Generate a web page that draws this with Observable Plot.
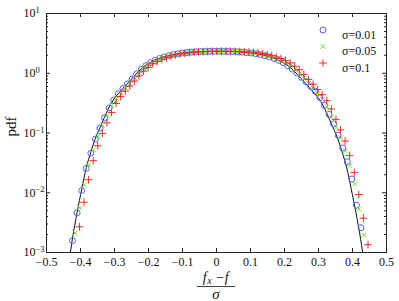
<!DOCTYPE html>
<html><head><meta charset="utf-8">
<script src="https://cdn.jsdelivr.net/npm/d3@7"></script>
<script src="https://cdn.jsdelivr.net/npm/@observablehq/plot@0.6"></script>
<style>body{margin:0;background:#fff}svg{display:block}</style>
</head><body><div id="chart"></div>
<script>
// σ=0.01 (circles)
const circleX = [-0.4235,-0.4100,-0.3966,-0.3831,-0.3696,-0.3562,-0.3427,-0.3292,-0.3157,-0.3023,-0.2888,-0.2753,-0.2619,-0.2484,-0.2349,-0.2215,-0.2080,-0.1945,-0.1810,-0.1676,-0.1541,-0.1406,-0.1272,-0.1137,-0.1002,-0.0868,-0.0733,-0.0598,-0.0463,-0.0329,-0.0194,-0.0059,0.0075,0.0210,0.0345,0.0479,0.0614,0.0749,0.0884,0.1018,0.1153,0.1288,0.1422,0.1557,0.1692,0.1826,0.1961,0.2096,0.2231,0.2365,0.2500,0.2635,0.2769,0.2904,0.3039,0.3174,0.3308,0.3443,0.3578,0.3712,0.3847,0.3982,0.4116,0.4251];
const circleY = [0.00158,0.0046,0.0109,0.0256,0.046,0.079,0.121,0.179,0.263,0.355,0.455,0.553,0.665,0.80,0.975,1.164,1.334,1.503,1.641,1.768,1.875,1.968,2.056,2.121,2.178,2.220,2.259,2.282,2.303,2.317,2.328,2.333,2.333,2.328,2.318,2.303,2.284,2.259,2.222,2.180,2.122,2.058,1.970,1.878,1.770,1.645,1.505,1.335,1.175,1.01,0.85,0.72,0.60,0.50,0.39,0.29,0.205,0.142,0.092,0.056,0.033,0.017,0.0062,0.0026];
// σ=0.05 (times)
const crossX = [-0.4157,-0.4022,-0.3888,-0.3753,-0.3618,-0.3483,-0.3349,-0.3214,-0.3079,-0.2945,-0.2810,-0.2675,-0.2541,-0.2406,-0.2271,-0.2137,-0.2002,-0.1867,-0.1732,-0.1598,-0.1463,-0.1328,-0.1194,-0.1059,-0.0924,-0.0790,-0.0655,-0.0520,-0.0385,-0.0251,-0.0116,0.0019,0.0154,0.0288,0.0423,0.0558,0.0692,0.0827,0.0962,0.1096,0.1231,0.1366,0.1501,0.1635,0.1770,0.1905,0.2039,0.2174,0.2309,0.2443,0.2578,0.2713,0.2847,0.2982,0.3117,0.3252,0.3386,0.3521,0.3656,0.3790,0.3925,0.4060,0.4194,0.4329];
const crossY = [0.00213,0.0056,0.0134,0.0294,0.0526,0.0879,0.132,0.197,0.285,0.378,0.471,0.573,0.698,0.843,1.019,1.197,1.371,1.531,1.671,1.790,1.897,1.986,2.075,2.133,2.190,2.228,2.264,2.286,2.307,2.321,2.329,2.333,2.333,2.328,2.317,2.303,2.282,2.259,2.220,2.178,2.121,2.056,1.968,1.875,1.768,1.641,1.503,1.334,1.164,0.982,0.815,0.68,0.56,0.46,0.365,0.27,0.185,0.125,0.083,0.050,0.0286,0.0141,0.0053,0.00195];
// σ=0.1 (plus)
const plusX = [-0.4030,-0.3895,-0.3761,-0.3626,-0.3491,-0.3357,-0.3222,-0.3087,-0.2952,-0.2818,-0.2683,-0.2548,-0.2414,-0.2279,-0.2144,-0.2010,-0.1875,-0.1740,-0.1605,-0.1471,-0.1336,-0.1201,-0.1067,-0.0932,-0.0797,-0.0663,-0.0528,-0.0393,-0.0258,-0.0124,0.0011,0.0146,0.0280,0.0415,0.0550,0.0684,0.0819,0.0954,0.1089,0.1223,0.1358,0.1493,0.1627,0.1762,0.1897,0.2031,0.2166,0.2301,0.2436,0.2570,0.2705,0.2840,0.2974,0.3109,0.3244,0.3378,0.3513,0.3648,0.3783,0.3917,0.4052,0.4187,0.4321,0.4456];
const plusY = [0.00269,0.00694,0.0165,0.0344,0.0610,0.0984,0.148,0.221,0.313,0.406,0.501,0.611,0.741,0.900,1.084,1.256,1.439,1.581,1.726,1.828,1.934,2.018,2.099,2.158,2.206,2.244,2.274,2.296,2.312,2.328,2.329,2.333,2.333,2.328,2.317,2.303,2.282,2.259,2.220,2.176,2.118,2.050,1.963,1.866,1.760,1.629,1.491,1.315,1.147,0.961,0.789,0.654,0.535,0.437,0.347,0.252,0.169,0.1127,0.0732,0.0419,0.0218,0.00933,0.00375,0.00135];
// reference pdf curve
const curveX = [-0.4298,-0.424,-0.410,-0.396,-0.383,-0.370,-0.357,-0.343,-0.330,-0.317,-0.304,-0.290,-0.2765,-0.2638,-0.250,-0.238,-0.225,-0.200,-0.175,-0.150,-0.125,-0.100,-0.075,-0.050,-0.025,0,0.025,0.050,0.075,0.100,0.125,0.150,0.175,0.200,0.225,0.238,0.250,0.2638,0.2765,0.290,0.304,0.317,0.330,0.343,0.357,0.370,0.383,0.396,0.410,0.424,0.4298];
const curveY = [0.001,0.00166,0.00468,0.01175,0.0263,0.0468,0.0794,0.122,0.180,0.263,0.355,0.449,0.547,0.661,0.80,0.955,1.135,1.462,1.722,1.919,2.080,2.188,2.259,2.301,2.328,2.333,2.328,2.301,2.259,2.188,2.080,1.919,1.722,1.462,1.135,0.955,0.80,0.661,0.547,0.449,0.355,0.263,0.180,0.122,0.0794,0.0468,0.0263,0.01175,0.00468,0.00166,0.001];

const xTicks = [-0.5,-0.4,-0.3,-0.2,-0.1,0,0.1,0.2,0.3,0.4,0.5];
const xTickLabels = ["\u22120.5","\u22120.4","\u22120.3","\u22120.2","\u22120.1","0","0.1","0.2","0.3","0.4","0.5"];
const yTicks = [0.001,0.01,0.1,1,10];
const yTickBase = "10";
const yTickExp = ["\u22123","\u22122","\u22121","0","1"];
const yMinorMult = [2,3,4,5,6,7,8,9];
const seriesLabels = ["\u03c3=0.01","\u03c3=0.05","\u03c3=0.1"];
const seriesSymbols = ["circle","times","plus"];
const seriesColors = ["#4f62f2","#78dc28","#f52626"];
const yLabel = "pdf";

const W = 399, H = 301, mL = 46, mR = 13, mT = 13, mB = 49;
const iW = W - mL - mR, iH = H - mT - mB;
const FONT = "'Liberation Serif', 'DejaVu Serif', serif";

const zip = (xs, ys) => xs.map((x, i) => ({x, y: ys[i]}));
const circles = zip(circleX, circleY);
const crosses = zip(crossX, crossY);
const pluses = zip(plusX, plusY);
const curve = zip(curveX, curveY);
const yMinor = yTicks.slice(0, -1).flatMap(d => yMinorMult.map(m => m * d));
const yLabData = yTicks.map((v, i) => ({v, t: yTickBase + "^" + yTickExp[i]}));

const symSize = {circle: 3.0, times: 2.3, plus: 2.6};
const legendDy = [16.5, 33, 49.5];

const marks = [
  Plot.line(curve, {x: "x", y: "y", stroke: "#111", strokeWidth: 1, curve: "monotone-x", clip: true}),
  Plot.dot(circles, {x: "x", y: "y", symbol: "circle", r: symSize.circle, stroke: seriesColors[0], fill: "none", strokeWidth: 1}),
  Plot.dot(crosses, {x: "x", y: "y", symbol: "times", r: symSize.times, stroke: seriesColors[1], fill: "none", strokeWidth: 1}),
  Plot.dot(pluses, {x: "x", y: "y", symbol: "plus", r: symSize.plus, stroke: seriesColors[2], fill: "none", strokeWidth: 1}),
  // inward ticks
  Plot.tickX(xTicks, {x: d => d, insetTop: iH - 4, stroke: "#222"}),
  Plot.tickX(xTicks, {x: d => d, insetBottom: iH - 4, stroke: "#222"}),
  Plot.tickY(yTicks, {y: d => d, insetRight: iW - 4, stroke: "#222"}),
  Plot.tickY(yTicks, {y: d => d, insetLeft: iW - 4, stroke: "#222"}),
  Plot.tickY(yMinor, {y: d => d, insetRight: iW - 2, stroke: "#222"}),
  Plot.tickY(yMinor, {y: d => d, insetLeft: iW - 2, stroke: "#222"}),
  Plot.frame({stroke: "#222", strokeWidth: 1}),
  Plot.axisX(xTicks, {tickSize: 0, tickPadding: 5, label: null, fontSize: 12, fill: "#111", tickFormat: (d) => xTickLabels[xTicks.indexOf(d)]}),
  Plot.text(yLabData, {y: "v", text: "t", frameAnchor: "left", dx: -23, textAnchor: "start", fontSize: 12, fill: "#111"}),
  ...seriesLabels.map((lab, i) => Plot.dot([lab], {frameAnchor: "top-right", dx: -63.5, dy: legendDy[i], symbol: seriesSymbols[i], r: symSize[seriesSymbols[i]], stroke: seriesColors[i], fill: "none", strokeWidth: 1})),
  ...seriesLabels.map((lab, i) => Plot.text([lab], {frameAnchor: "top-right", dx: -44.5, dy: legendDy[i], text: d => d, textAnchor: "start", fontSize: 12, fill: "#111"}))
];

const svg = Plot.plot({
  width: W, height: H,
  marginLeft: mL, marginRight: mR, marginTop: mT, marginBottom: mB,
  style: {fontFamily: FONT, fontSize: "12px", background: "#fff", overflow: "visible"},
  x: {domain: [-0.5, 0.5], axis: null},
  y: {type: "log", domain: [0.001, 10], axis: null},
  marks
});

const S = d3.select(svg);
// superscript exponents on y tick labels
S.selectAll("text").each(function() {
  const t = d3.select(this);
  const s = t.text();
  if (!s.includes("^")) return;
  const [b, e] = s.split("^");
  t.text(null);
  t.append("tspan").text(b);
  t.append("tspan").attr("dy", "-0.5em").attr("font-size", "8.5px").text(e);
});

// axis titles
const cx = svg.scale("x").apply(0);
const g = S.append("g").attr("font-family", FONT).attr("fill", "#111");
const num = g.append("text").attr("x", cx).attr("y", 281.5).attr("text-anchor", "middle").attr("font-size", 14).attr("letter-spacing", 0.6);
num.append("tspan").attr("font-style", "italic").text("f");
num.append("tspan").attr("font-style", "italic").attr("font-size", 10).attr("dy", 2.5).text("x");
num.append("tspan").attr("dy", -2.5).text(" \u2212");
num.append("tspan").attr("font-style", "italic").text("f");
g.append("line").attr("x1", cx - 19).attr("x2", cx + 19).attr("y1", 286.5).attr("y2", 286.5).attr("stroke", "#111").attr("stroke-width", 0.8);
g.append("text").attr("x", cx).attr("y", 299).attr("text-anchor", "middle").attr("font-size", 15).attr("font-style", "italic").text("\u03c3");
g.append("text").attr("transform", `translate(16,${mT + iH / 2 - 6}) rotate(-90)`).attr("text-anchor", "middle").attr("font-size", 15).text(yLabel);

document.getElementById("chart").appendChild(svg);
</script>
</body></html>
